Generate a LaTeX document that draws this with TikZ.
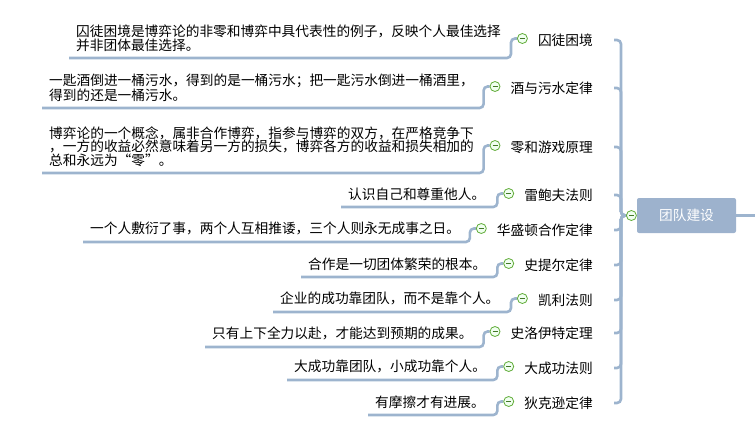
\documentclass[tikz,border=0pt]{standalone}
\usepackage{fontspec}
\setmainfont{Noto Sans CJK SC}
\usepackage{tikz}
\usetikzlibrary{positioning,calc,backgrounds}
\definecolor{linkblue}{RGB}{157,180,206}
\definecolor{rootblue}{RGB}{157,178,205}
\definecolor{togglegreen}{RGB}{96,172,56}

\begin{document}
\begin{tikzpicture}[x=1pt,y=-1pt,
   font=\fontsize{13.7}{13.5}\selectfont,
   desc/.style={align=left,inner xsep=7pt,inner ysep=6.5pt,anchor=south west},
   topic/.style={inner sep=2pt,anchor=east},
   toggle/.style={circle,draw=togglegreen,fill=green!6,line width=0.8pt,
     minimum size=10pt,inner sep=0pt,
     path picture={\draw[togglegreen!70!black,line width=0.9pt]
       ([xshift=-2.5pt]path picture bounding box.center) --
       ([xshift=2.5pt]path picture bounding box.center);}},
   link/.style={draw=linkblue,line width=2.6pt,rounded corners=4pt},
   rootbox/.style={fill=rootblue,text=white,rounded corners=2pt,
     minimum width=99pt,minimum height=35pt}]
  \useasboundingbox (0,0) rectangle (755,433);

  % central topic
  \node[rootbox] (root) at (686.5,215.5) {团队建设};
  \node[toggle,left=0pt of root] (rc) {};
  \coordinate (rootend) at (755,215.5);

  % laws
  \node[topic] (t1)  at (595,40)  {囚徒困境};
  \node[topic] (t2)  at (595,88)  {酒与污水定律};
  \node[topic] (t3)  at (595,147) {零和游戏原理};
  \node[topic] (t4)  at (595,195) {雷鲍夫法则};
  \node[topic] (t5)  at (595,230) {华盛顿合作定律};
  \node[topic] (t6)  at (595,265) {史提尔定律};
  \node[topic] (t7)  at (595,300) {凯利法则};
  \node[topic] (t8)  at (595,333) {史洛伊特定理};
  \node[topic] (t9)  at (595,368) {大成功法则};
  \node[topic] (t10) at (595,403) {狄克逊定律};

  \foreach \i in {1,...,10}
    \node[toggle,left=8pt of t\i,yshift=1.5pt] (c\i) {};

  % explanations
  \node[desc] (d1)  at (69,58)   {囚徒困境是博弈论的非零和博弈中具代表性的例子，反映个人最佳选择\\并非团体最佳选择。};
  \node[desc] (d2)  at (42,108)  {一匙酒倒进一桶污水，得到的是一桶污水；把一匙污水倒进一桶酒里，\\得到的还是一桶污水。};
  \node[desc] (d3)  at (42,173)  {博弈论的一个概念，属非合作博弈，指参与博弈的双方，在严格竞争下\\，一方的收益必然意味着另一方的损失，博弈各方的收益和损失相加的\\总和永远为“零”。};
  \node[desc] (d4)  at (341,207) {认识自己和尊重他人。};
  \node[desc] (d5)  at (83,242)  {一个人敷衍了事，两个人互相推诿，三个人则永无成事之日。};
  \node[desc] (d6)  at (301,277) {合作是一切团体繁荣的根本。};
  \node[desc] (d7)  at (273,312) {企业的成功靠团队，而不是靠个人。};
  \node[desc] (d8)  at (205,347) {只有上下全力以赴，才能达到预期的成果。};
  \node[desc] (d9)  at (287,380) {大成功靠团队，小成功靠个人。};
  \node[desc] (d10) at (368,415) {有摩擦才有进展。};

  \begin{scope}[on background layer]
    \draw[link] (root.east) -- (rootend);
    \foreach \i in {1,...,10} {
      \draw[link] (rc.west) -- ++(-5,0) |- ($(t\i.east)+(19,0)$);
      \draw[link] (c\i.west) -- ++(-6,0) |- (d\i.south west);
    }
  \end{scope}
\end{tikzpicture}
\end{document}
